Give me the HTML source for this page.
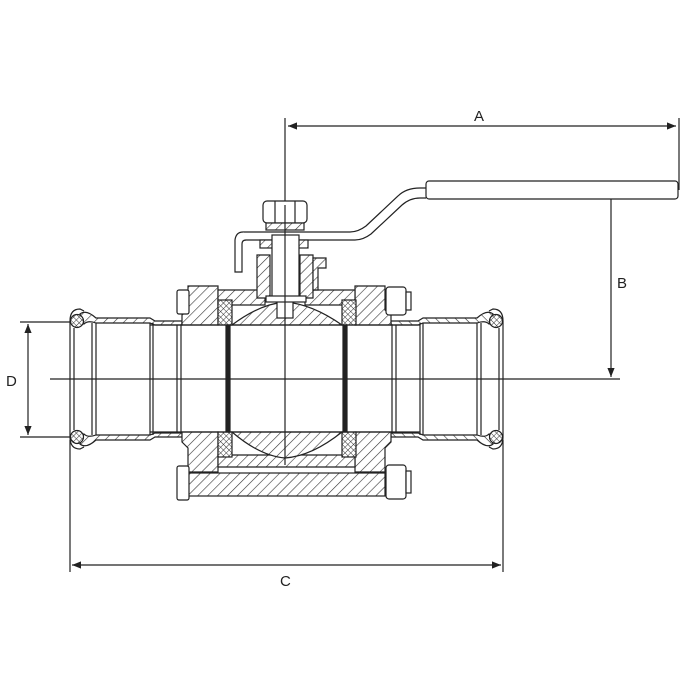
<!DOCTYPE html>
<html><head><meta charset="utf-8"><style>
html,body{margin:0;padding:0;background:#fff}
svg{display:block}
text{font-family:"Liberation Sans",sans-serif;font-size:15px;fill:#222}
</style></head><body>
<svg width="687" height="686" viewBox="0 0 687 686" xmlns="http://www.w3.org/2000/svg">
<defs>
<pattern id="h" width="7" height="7" patternUnits="userSpaceOnUse" patternTransform="rotate(45)">
<rect width="7" height="7" fill="#fff"/><line x1="0" y1="0" x2="0" y2="7" stroke="#333" stroke-width="1.2"/></pattern>
<pattern id="x" width="4" height="4" patternUnits="userSpaceOnUse" patternTransform="rotate(45)">
<rect width="4" height="4" fill="#fff"/><line x1="0" y1="0" x2="0" y2="4" stroke="#333" stroke-width="1"/><line x1="0" y1="0" x2="4" y2="0" stroke="#333" stroke-width="1"/></pattern>
<marker id="ar" viewBox="0 0 10 10" refX="10" refY="5" markerWidth="9" markerHeight="9" orient="auto-start-reverse" markerUnits="userSpaceOnUse"><path d="M0,1 L10,5 L0,9z" fill="#222"/></marker>
</defs>
<g stroke="#222" stroke-width="1.2" fill="none">
<line x1="285" y1="118" x2="285" y2="205"/>
<line x1="288" y1="126" x2="676" y2="126" marker-start="url(#ar)" marker-end="url(#ar)"/>
<line x1="679" y1="118" x2="679" y2="190"/>
<line x1="611" y1="186" x2="611" y2="377" marker-start="url(#ar)" marker-end="url(#ar)"/>
<line x1="50" y1="379" x2="620" y2="379"/>
<line x1="72" y1="565" x2="501" y2="565" marker-start="url(#ar)" marker-end="url(#ar)"/>
<line x1="70" y1="440" x2="70" y2="572"/>
<line x1="503" y1="440" x2="503" y2="572"/>
<line x1="28" y1="324" x2="28" y2="435" marker-start="url(#ar)" marker-end="url(#ar)"/>
<line x1="20" y1="322" x2="76" y2="322"/>
<line x1="20" y1="437" x2="76" y2="437"/>

<rect x="426" y="181" width="252" height="18" rx="3" fill="#fff"/>
<path d="M420,188 h6 M420,198 h6" />
<path d="M243,232 L350,232 Q358,232 366,226 L398,196 Q406,188 420,188" />
<path d="M243,240 L355,240 Q363,240 371,234 L402,205 Q410,198 420,198" />
<path d="M243,232 Q236,232 235,240 L235,272 L242,272 L242,244 Q242,240 246,240" fill="#fff"/>
</g>

<g id="sock" stroke="#222" stroke-width="1.2" fill="none">
<path d="M80,314 Q86,309 96,318 L150,318 L155,321 L182,321 L182,325 L155,325 L150,323 L96,323 Q88,320 84,324 Z" fill="url(#h)"/>
<path d="M80,444 Q86,449 96,440 L150,440 L155,437 L182,437 L182,433 L155,433 L150,435 L96,435 Q88,438 84,434 Z" fill="url(#h)"/>
<circle cx="77" cy="321" r="6.5" fill="url(#x)"/>
<circle cx="77" cy="437" r="6.5" fill="url(#x)"/>
<path d="M70,321 Q70,309 80,309 L84,311"/>
<path d="M70,437 Q70,449 80,449 L84,447"/>
<line x1="70" y1="321" x2="70" y2="437"/>
<line x1="74" y1="328" x2="74" y2="430"/>
<line x1="92" y1="323" x2="92" y2="435"/>
<line x1="96" y1="323" x2="96" y2="435"/>
<line x1="150" y1="323" x2="150" y2="435"/>
<line x1="153" y1="323" x2="153" y2="435"/>
<line x1="177" y1="325" x2="177" y2="433"/>
<line x1="181" y1="325" x2="181" y2="433"/>
</g>
<use href="#sock" transform="translate(573,0) scale(-1,1)"/>

<g stroke="#222" stroke-width="1.2">
<path d="M188,286 L218,286 L218,325 L182,325 L182,315 L188,310 Z" fill="url(#h)"/>
<path d="M188,472 L218,472 L218,432 L182,432 L182,442 L188,448 Z" fill="url(#h)"/>
<path d="M385,286 L355,286 L355,325 L391,325 L391,315 L385,310 Z" fill="url(#h)"/>
<path d="M385,472 L355,472 L355,432 L391,432 L391,442 L385,448 Z" fill="url(#h)"/>
<path d="M218,290 L265,290 L265,305 L218,305 Z" fill="url(#h)"/>
<path d="M305,290 L355,290 L355,305 L305,305 Z" fill="url(#h)"/>
<path d="M218,455 L355,455 L355,467 L218,467 Z" fill="url(#h)"/>
<rect x="188" y="473" width="197" height="23" fill="url(#h)"/>
<path d="M232,325 Q260,304 285,302 Q312,304 342,325 Z" fill="url(#h)"/>
<path d="M232,432 Q260,456 285,458 Q312,456 342,432 Z" fill="url(#h)"/>
<rect x="277" y="300" width="16" height="18" fill="#fff"/>
<rect x="218" y="300" width="14" height="25" fill="url(#x)"/>
<rect x="342" y="300" width="14" height="25" fill="url(#x)"/>
<rect x="218" y="432" width="14" height="25" fill="url(#x)"/>
<rect x="342" y="432" width="14" height="25" fill="url(#x)"/>
<rect x="226" y="325" width="4" height="107" fill="#222"/>
<rect x="343" y="325" width="4" height="107" fill="#222"/>
<path d="M257,255 L270,255 L270,298 L257,298 Z" fill="url(#h)"/>
<path d="M300,255 L313,255 L313,298 L300,298 Z" fill="url(#h)"/>
<path d="M313,258 L326,258 L326,268 L318,268 L318,290 L313,290 Z" fill="url(#h)"/>
<rect x="260" y="240" width="48" height="8" fill="url(#h)"/>
<rect x="272" y="235" width="27" height="65" fill="#fff"/>
<rect x="266" y="296" width="40" height="6" fill="#fff"/>
<rect x="263" y="201" width="44" height="22" rx="4" fill="#fff"/>
<line x1="275" y1="201" x2="275" y2="223"/><line x1="295" y1="201" x2="295" y2="223"/>
<rect x="266" y="223" width="38" height="7" fill="url(#h)"/>
<rect x="177" y="290" width="12" height="24" rx="2" fill="#fff"/>
<rect x="177" y="466" width="12" height="34" rx="2" fill="#fff"/>
<rect x="386" y="287" width="20" height="28" rx="3" fill="#fff"/>
<rect x="406" y="292" width="5" height="18" fill="#fff"/>
<rect x="386" y="465" width="20" height="34" rx="3" fill="#fff"/>
<rect x="406" y="471" width="5" height="22" fill="#fff"/>
</g>
<g stroke="#222" stroke-width="1.2">
<line x1="150" y1="325" x2="420" y2="325"/>
<line x1="150" y1="432" x2="420" y2="432"/>
<line x1="285" y1="205" x2="285" y2="465"/>
</g>
<text x="474" y="121">A</text>
<text x="617" y="288">B</text>
<text x="280" y="586">C</text>
<text x="6" y="386">D</text>
</svg>
</body></html>
